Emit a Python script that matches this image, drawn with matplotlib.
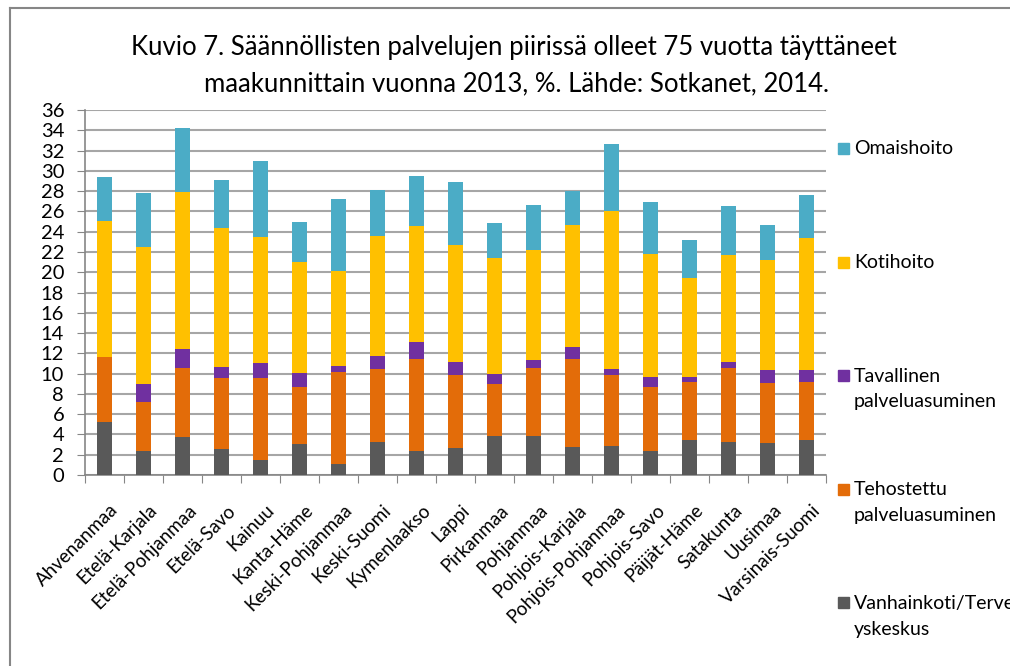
import numpy as np
import matplotlib
matplotlib.use("Agg")
import matplotlib.pyplot as plt
import matplotlib.transforms as mtransforms
from matplotlib.lines import Line2D
from matplotlib.patches import Rectangle

plt.rcParams['font.family'] = ['Lato', 'DejaVu Sans']

# maakunnat
maakunnat = ["Ahvenanmaa", "Etelä-Karjala", "Etelä-Pohjanmaa", "Etelä-Savo",
             "Kainuu", "Kanta-Häme", "Keski-Pohjanmaa", "Keski-Suomi",
             "Kymenlaakso", "Lappi", "Pirkanmaa", "Pohjanmaa",
             "Pohjois-Karjala", "Pohjois-Pohjanmaa", "Pohjois-Savo",
             "Päijät-Häme", "Satakunta", "Uusimaa", "Varsinais-Suomi"]

# osuudet (%) palvelumuodoittain
vanhainkoti = [5.2, 2.4, 3.7, 2.6, 1.5, 3.1, 1.1, 3.3, 2.4, 2.7,
               3.8, 3.8, 2.8, 2.9, 2.4, 3.5, 3.3, 3.2, 3.5]
tehostettu = [6.4, 4.8, 6.9, 7.0, 8.1, 5.6, 9.1, 7.2, 9.0, 7.2,
              5.2, 6.8, 8.6, 7.0, 6.3, 5.7, 7.3, 5.9, 5.7]
tavallinen = [0.0, 1.8, 1.8, 1.1, 1.4, 1.4, 0.6, 1.2, 1.7, 1.2,
              1.0, 0.7, 1.2, 0.6, 1.0, 0.5, 0.5, 1.3, 1.2]
kotihoito = [13.5, 13.5, 15.5, 13.7, 12.5, 10.9, 9.3, 11.9, 11.5, 11.6,
             11.4, 10.9, 12.1, 15.5, 12.1, 9.7, 10.6, 10.8, 13.0]
omaishoito = [4.3, 5.3, 6.3, 4.7, 7.5, 4.0, 7.1, 4.5, 4.9, 6.2,
              3.5, 4.4, 3.3, 6.6, 5.1, 3.8, 4.8, 3.5, 4.2]

sarjat = ["Vanhainkoti/Terve\nyskeskus", "Tehostettu\npalveluasuminen",
          "Tavallinen\npalveluasuminen", "Kotihoito", "Omaishoito"]
arvot = [vanhainkoti, tehostettu, tavallinen, kotihoito, omaishoito]
varit = ["#595959", "#E36C09", "#7030A0", "#FFC000", "#4BACC6"]

W, H = 1010, 666
fig = plt.figure(figsize=(W / 100, H / 100), dpi=100)
ax = fig.add_axes([85 / W, 1 - 475 / H, (826 - 85) / W, (475 - 110) / H])

x = np.arange(len(maakunnat))
pohja = np.zeros(len(maakunnat))
for nimi, data, vari in zip(sarjat, arvot, varit):
    ax.bar(x, data, width=0.39, bottom=pohja, color=vari, zorder=3)
    pohja += np.array(data)

ax.set_xlim(-0.5, len(maakunnat) - 0.5)
ax.set_ylim(0, 36)
ax.set_yticks(range(0, 37, 2))
ax.tick_params(axis='y', labelsize=14.5, length=6, color="#868686", pad=9)
ax.yaxis.grid(True, color="#A6A6A6", linewidth=1.5, zorder=0)

# kategoriaväliviivat x-akselilla
ax.set_xticks(np.arange(-0.5, len(maakunnat)), minor=False)
ax.set_xticklabels([])
ax.set_xticks(x, minor=True)
ax.set_xticklabels(maakunnat, minor=True, rotation=45, ha='right',
                   rotation_mode='anchor', fontsize=13.5)
ax.tick_params(axis='x', which='major', length=6, color="#868686")
ax.tick_params(axis='x', which='minor', length=0, pad=19)
siirto = mtransforms.ScaledTranslation(5 / 100, 0, fig.dpi_scale_trans)
for t in ax.get_xticklabels(minor=True):
    t.set_transform(t.get_transform() + siirto)

for s in ["top", "right"]:
    ax.spines[s].set_visible(False)
ax.spines["left"].set_color("#868686")
ax.spines["bottom"].set_color("#868686")
ax.spines["left"].set_linewidth(1.2)
ax.spines["bottom"].set_linewidth(1.2)

fig.text(514 / W, 1 - 55 / H, "Kuvio 7. Säännöllisten palvelujen piirissä olleet 75 vuotta täyttäneet",
         ha='center', va='baseline', fontsize=18.5)
fig.text(516 / W, 1 - 91 / H, "maakunnittain vuonna 2013, %. Lähde: Sotkanet, 2014.",
         ha='center', va='baseline', fontsize=18.5)

# selite
for i, (nimi, vari) in enumerate(zip(sarjat[::-1], varit[::-1])):
    yy = 148.5 + 113.5 * i
    fig.patches.append(Rectangle((838 / W, 1 - (yy + 5.5) / H), 11 / W, 11 / H,
                                 transform=fig.transFigure, color=vari))
    fig.text(854 / W, 1 - (yy + 6) / H, nimi.split("\n")[0], ha='left',
             va='baseline', fontsize=14)
    if "\n" in nimi:
        fig.text(854 / W, 1 - (yy + 32) / H, nimi.split("\n")[1], ha='left',
                 va='baseline', fontsize=14)

# kehys
fig.add_artist(Line2D([10 / W, 1], [1 - 8 / H, 1 - 8 / H], color="#868686", lw=1.5))
fig.add_artist(Line2D([10 / W, 10 / W], [0, 1 - 8 / H], color="#868686", lw=1.5))

fig.savefig("out.png", dpi=100)
